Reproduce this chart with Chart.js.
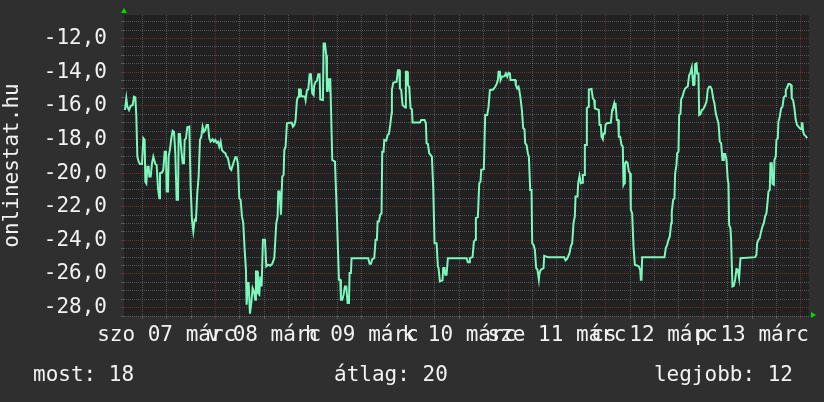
<!DOCTYPE html>
<html>
<head>
    <title>onlinestat.hu</title>
    <style>
        body, html {
            margin: 0;
            background-color: #2f2f2f;
        }
        #box {
            width: 824px;
            height: 402px;
            position: relative;
        }
    </style>
</head>
<body>
    <div id="box"><canvas id="myChart"></canvas></div>
    <script src="https://cdn.jsdelivr.net/npm/chart.js"></script>
    <script>
        // hours since sat 07 march 00:00, and the plotted rank (negative)
        const hours = [
            -22.25,-21.93,-21.68,-21.27,-20.86,-20.37,-20.04,-19.71,-19.47,-19.22,-18.89,-18.57,-18.07,-17.75,-17.42,-17.25,-17.01,-16.76,-16.43,-16.27,
            -15.94,-15.61,-15.29,-14.80,-14.47,-14.14,-13.81,-13.65,-13.16,-12.83,-12.50,-12.17,-12.01,-11.68,-11.52,-11.19,-10.86,-10.53,-10.20,-9.88,
            -9.55,-9.22,-9.06,-8.73,-8.40,-8.07,-7.75,-7.58,-7.25,-6.93,-6.43,-6.11,-5.78,-5.45,-5.12,-4.80,-4.47,-4.14,-3.81,-3.48,
            -3.16,-2.83,-2.50,-2.17,-1.84,-1.52,-1.19,-0.70,-0.37,-0.04,0.29,0.61,0.94,1.27,1.60,1.93,2.42,2.75,3.07,3.57,
            3.89,4.39,4.88,5.20,5.53,5.86,6.19,6.52,6.84,7.17,7.50,7.66,7.99,8.16,8.48,8.81,9.14,9.47,9.80,9.96,
            10.29,10.45,10.78,11.02,11.35,11.68,12.17,12.50,12.99,13.48,13.98,14.47,14.96,15.29,15.45,15.78,16.11,16.43,16.76,16.93,
            17.25,17.58,18.73,19.06,19.39,19.71,20.04,20.37,20.53,20.86,21.02,22.01,22.17,22.50,22.83,23.16,23.48,23.81,24.14,24.30,
            24.63,24.96,25.29,25.61,25.78,26.43,26.60,26.93,27.25,27.42,27.75,28.07,28.24,28.40,28.73,29.39,29.71,30.04,30.37,30.70,
            30.86,31.19,31.52,31.84,32.17,32.50,32.83,32.99,33.32,33.48,37.58,37.91,38.24,38.57,39.06,39.39,39.71,39.88,40.21,40.53,
            40.86,41.02,41.35,41.52,42.01,42.34,42.66,42.99,43.32,43.40,43.73,44.55,44.88,45.20,45.37,45.70,46.02,46.68,46.84,47.17,
            47.34,47.66,47.99,48.32,48.48,50.29,50.61,51.43,51.76,51.93,52.25,52.58,53.24,53.57,53.89,54.39,54.71,54.88,55.20,55.86,
            56.02,56.35,56.52,56.84,57.17,61.76,62.09,62.42,62.58,63.24,63.57,63.89,64.06,64.55,64.88,65.20,65.37,66.02,66.35,66.84,
            67.17,67.50,68.32,68.81,69.14,69.47,69.63,69.96,70.12,70.45,71.11,71.43,71.76,72.09,72.42,72.58,73.73,73.89,74.22,74.55,
            74.71,75.04,75.37,75.70,76.02,76.19,76.52,76.84,77.09,77.42,77.75,77.91,78.24,78.57,78.89,79.22,79.55,79.71,80.04,80.70,
            80.86,81.84,85.78,86.11,86.43,86.76,87.09,87.42,87.75,88.07,88.40,88.57,89.06,89.22,89.55,89.88,90.20,90.37,90.70,90.86,
            91.19,91.35,91.68,91.84,92.50,92.83,93.16,93.32,94.30,94.47,94.80,94.96,95.29,95.45,95.78,95.94,96.27,97.25,97.58,97.75,
            98.07,98.24,98.40,98.73,99.06,99.22,99.55,99.88,100.20,100.37,100.53,100.70,101.02,101.35,101.68,102.00,102.17,102.50,102.83,103.16,
            103.81,104.14,104.47,104.63,104.80,104.96,110.45,110.78,111.11,111.43,111.76,112.09,112.25,112.58,112.91,113.07,113.40,113.57,113.89,114.06,
            114.39,114.55,114.88,115.20,115.53,116.19,116.52,116.84,117.17,117.50,117.66,117.83,117.99,118.32,118.48,118.81,118.98,119.30,119.63,119.96,
            120.29,120.61,120.78,121.11,121.43,121.76,122.09,122.42,122.75,123.07,123.40,123.73,124.06,124.39,124.71,124.88,125.04,125.37,125.70,126.02,
            126.19,126.35,126.68,126.84,127.17,127.50,127.83,128.16,128.48,128.81,129.14,132.75,133.07,133.24,133.57,133.89,134.22,134.55,134.88,135.20,
            135.53,135.86,136.02,136.35,136.52,136.84,137.01,137.34,137.50,137.83,137.99,138.32,138.48,138.81,139.14,139.47,139.80,140.12,140.29,140.62,
            140.94,141.27,141.60,141.76,142.09,142.42,142.75,143.07,143.40,143.73,144.06,144.22,144.39,144.55,144.88,145.20,145.53
        ];
        const rank = [
            -16.25,-15.56,-16.06,-16.25,-16.00,-15.96,-15.46,-15.50,-16.61,-19.02,-19.32,-19.46,-19.46,-17.93,-18.03,-20.51,-20.61,-19.62,-19.62,-20.21,
            -20.21,-19.42,-19.02,-19.46,-19.52,-20.90,-21.50,-20.01,-19.97,-19.81,-18.73,-18.73,-21.10,-21.10,-19.02,-18.59,-17.93,-17.48,-17.54,-18.82,
            -21.59,-21.59,-17.68,-17.68,-18.63,-19.42,-19.42,-18.03,-17.93,-17.28,-17.24,-20.80,-22.78,-23.47,-22.78,-22.82,-21.16,-20.21,-18.03,-17.84,
            -17.24,-17.54,-17.44,-17.14,-17.14,-17.93,-18.13,-17.99,-18.13,-18.03,-18.19,-18.13,-18.43,-18.13,-18.63,-18.73,-18.82,-19.02,-19.12,-19.72,
            -19.81,-19.42,-19.06,-19.06,-19.46,-21.50,-21.59,-22.58,-22.98,-24.52,-25.75,-27.83,-26.54,-26.54,-28.36,-27.73,-26.84,-27.03,-27.53,-25.85,
            -25.85,-27.13,-27.23,-26.15,-26.74,-23.97,-23.97,-25.55,-25.45,-25.51,-25.39,-25.06,-22.98,-22.58,-21.10,-21.10,-22.48,-20.21,-20.11,-18.63,
            -18.43,-17.04,-17.00,-17.24,-17.14,-16.85,-15.66,-15.46,-15.03,-15.03,-15.42,-15.46,-15.66,-15.07,-15.03,-14.12,-14.12,-15.26,-15.36,-14.77,
            -14.57,-14.51,-14.12,-14.12,-15.62,-15.66,-12.30,-12.30,-12.99,-15.17,-14.37,-15.17,-14.37,-14.37,-19.22,-19.32,-21.40,-23.87,-26.34,-26.34,
            -27.53,-27.53,-27.23,-26.74,-26.74,-27.73,-27.73,-25.95,-25.95,-25.06,-25.06,-25.39,-25.39,-25.12,-25.06,-23.97,-23.97,-22.88,-22.88,-22.48,
            -22.39,-18.73,-18.73,-18.03,-18.07,-17.74,-17.68,-17.14,-16.45,-15.07,-14.63,-14.57,-13.88,-13.88,-14.97,-15.07,-15.96,-16.10,-13.98,-13.98,
            -14.77,-14.87,-16.15,-16.21,-17.00,-17.00,-16.85,-16.85,-17.04,-18.23,-18.27,-18.82,-19.02,-20.90,-24.17,-24.17,-25.55,-25.65,-26.44,-26.38,
            -25.65,-25.65,-26.05,-26.05,-25.06,-25.06,-25.31,-25.31,-25.06,-25.00,-24.07,-23.97,-22.68,-22.62,-20.61,-20.51,-19.81,-19.77,-16.55,-16.55,
            -16.06,-15.07,-15.03,-14.87,-14.71,-14.47,-13.98,-13.98,-14.47,-14.27,-14.24,-14.08,-14.27,-14.04,-14.08,-14.47,-14.47,-14.77,-14.97,-14.87,
            -15.03,-15.56,-16.25,-17.34,-17.40,-18.23,-18.33,-18.82,-19.02,-21.00,-21.00,-24.17,-24.27,-24.56,-25.65,-25.75,-26.34,-25.95,-25.75,-25.65,
            -24.92,-25.00,-25.00,-25.19,-25.12,-24.96,-24.76,-24.36,-24.17,-22.98,-22.58,-21.40,-21.40,-20.61,-20.17,-20.61,-20.57,-20.11,-20.11,-18.33,
            -18.33,-16.15,-16.06,-15.03,-15.00,-15.56,-15.66,-16.15,-16.25,-17.14,-17.14,-17.84,-17.99,-17.64,-17.64,-17.14,-17.04,-17.00,-16.25,-16.15,
            -15.86,-16.15,-15.82,-16.85,-16.85,-17.84,-17.84,-18.33,-18.43,-20.70,-20.61,-19.46,-19.32,-19.38,-19.91,-20.01,-22.19,-22.39,-24.36,-25.45,
            -25.51,-25.55,-25.75,-26.34,-26.34,-25.00,-25.00,-24.46,-24.27,-23.97,-23.77,-22.98,-22.29,-21.59,-21.50,-20.01,-19.52,-18.82,-18.73,-16.55,
            -16.49,-15.62,-15.46,-15.17,-14.97,-14.83,-14.18,-14.04,-13.72,-14.77,-14.18,-14.77,-13.52,-13.48,-14.08,-14.08,-16.55,-16.49,-16.25,-16.21,
            -16.06,-15.86,-15.76,-15.03,-14.87,-14.87,-15.03,-15.56,-15.86,-16.45,-16.75,-17.04,-18.13,-18.23,-19.22,-19.22,-18.86,-18.86,-19.22,-20.41,
            -20.61,-23.08,-23.28,-23.97,-26.74,-26.70,-26.34,-25.71,-25.75,-26.25,-25.06,-25.00,-24.86,-24.17,-23.97,-23.87,-23.47,-23.18,-22.98,-22.58,
            -22.39,-21.59,-21.10,-21.00,-19.42,-19.42,-20.64,-20.70,-19.22,-19.02,-18.03,-17.93,-16.95,-16.65,-16.15,-16.06,-15.50,-15.42,-15.07,-14.91,
            -14.71,-14.71,-14.77,-15.56,-15.66,-16.15,-16.85,-17.14,-17.24,-17.34,-17.40,-17.04,-17.04,-17.54,-17.74,-17.80,-17.93
        ];

        const dayLabels = ['szo 07 márc', 'v 08 márc', 'h 09 márc', 'k 10 márc', 'sze 11 márc', 'cs 12 márc', 'p 13 márc'];
        const dayLabelHours = [-12, 12, 36, 60, 84, 108, 132];

        const summaryLabels = ['most', 'átlag', 'legjobb'];
        const summaryValues = [18, 20, 12];

        const FONT = 'DejaVu Sans Mono';
        const TEXT = '#f2f2f2';
        const GRID = 'rgba(140,140,140,0.45)';
        const MGRID = 'rgba(165,60,60,0.55)';

        const decor = {
            id: 'decor',
            beforeDraw(chart) {
                const {ctx, chartArea: a} = chart;
                ctx.save();
                ctx.fillStyle = '#2f2f2f';
                ctx.fillRect(0, 0, chart.width, chart.height);
                ctx.fillStyle = '#212121';
                ctx.fillRect(a.left, a.top, a.right - a.left, a.bottom - a.top);
                ctx.restore();
            },
            afterDraw(chart) {
                const {ctx, chartArea: a} = chart;
                ctx.save();
                // axis arrows
                ctx.fillStyle = '#00dd00';
                ctx.beginPath();
                ctx.moveTo(a.left - 3, a.top - 2);
                ctx.lineTo(a.left + 3, a.top - 2);
                ctx.lineTo(a.left, a.top - 7);
                ctx.fill();
                ctx.beginPath();
                ctx.moveTo(a.right + 2, a.bottom - 4);
                ctx.lineTo(a.right + 2, a.bottom + 2);
                ctx.lineTo(a.right + 7, a.bottom - 1);
                ctx.fill();
                // summary line
                ctx.fillStyle = TEXT;
                ctx.font = '21px "' + FONT + '"';
                ctx.textBaseline = 'alphabetic';
                const xs = [33, 334, 793];
                const aligns = ['left', 'left', 'right'];
                summaryLabels.forEach((l, i) => {
                    ctx.textAlign = aligns[i];
                    ctx.fillText(l + ': ' + summaryValues[i], xs[i], 381);
                });
                ctx.restore();
            }
        };

        const ctx = document.getElementById('myChart').getContext('2d');
        const myChart = new Chart(ctx, {
            type: 'line',
            data: {
                datasets: [{
                    data: hours.map((h, i) => ({x: h, y: rank[i]})),
                    borderColor: '#7cf7bd',
                    borderWidth: 2,
                    pointRadius: 0,
                    tension: 0,
                    fill: false
                }]
            },
            options: {
                responsive: true,
                maintainAspectRatio: false,
                animation: false,
                layout: {padding: {top: 15, right: 15, left: 0, bottom: 0}},
                plugins: {legend: {display: false}, tooltip: {enabled: false}},
                scales: {
                    x: {
                        type: 'linear',
                        min: -22.5,
                        max: 146,
                        afterBuildTicks: s => {
                            s.ticks = [];
                            for (let h = -18; h <= 144; h += 6) s.ticks.push({value: h});
                        },
                        afterFit: s => {
                            s.height = 86;
                            s.paddingLeft = 0;
                            s.paddingRight = 0;
                        },
                        grid: {
                            color: c => (c.tick && c.tick.value % 24 === 0) ? MGRID : GRID,
                            tickColor: c => (c.tick && c.tick.value % 24 === 0) ? MGRID : GRID,
                            tickLength: 3,
                            lineWidth: 1
                        },
                        border: {display: false, dash: [1, 1]},
                        ticks: {
                            autoSkip: false,
                            maxRotation: 0,
                            minRotation: 0,
                            padding: 4,
                            color: TEXT,
                            font: {family: FONT, size: 21},
                            callback: v => {
                                const i = dayLabelHours.indexOf(v);
                                return i >= 0 ? dayLabels[i] : '';
                            }
                        }
                    },
                    y: {
                        min: -28.5,
                        max: -10.6,
                        afterBuildTicks: s => {
                            s.ticks = [];
                            for (let v = -28.5; v <= -11; v += 0.5) s.ticks.push({value: v});
                        },
                        afterFit: s => {
                            s.width = 124;
                            s.paddingTop = 0;
                            s.paddingBottom = 0;
                        },
                        grid: {
                            color: c => (c.tick && c.tick.value % 2 === 0) ? MGRID : GRID,
                            tickColor: c => (c.tick && c.tick.value % 2 === 0) ? MGRID : GRID,
                            tickLength: 3,
                            lineWidth: 1
                        },
                        border: {display: false, dash: [1, 1]},
                        ticks: {
                            autoSkip: false,
                            padding: 14,
                            color: TEXT,
                            font: {family: FONT, size: 21},
                            callback: v => (v % 2 === 0) ? v.toFixed(1).replace('.', ',') : ''
                        },
                        title: {
                            display: true,
                            text: 'onlinestat.hu',
                            color: TEXT,
                            font: {family: FONT, size: 21},
                            padding: {top: 0, bottom: 0}
                        }
                    }
                }
            },
            plugins: [decor]
        });
    </script>
</body>
</html>
